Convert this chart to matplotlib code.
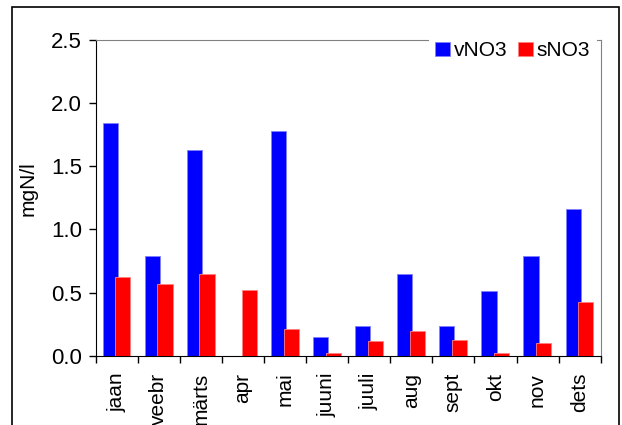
import matplotlib.pyplot as plt
import numpy as np
from matplotlib.patches import Rectangle

months = ["jaan", "veebr", "märts", "apr", "mai", "juuni", "juuli",
          "aug", "sept", "okt", "nov", "dets"]
vno3 = [1.84, 0.79, 1.63, 0.0, 1.78, 0.15, 0.24, 0.65, 0.24, 0.51, 0.79, 1.16]
sno3 = [0.62, 0.57, 0.65, 0.52, 0.21, 0.02, 0.12, 0.20, 0.13, 0.02, 0.10, 0.43]

plt.rcParams["font.family"] = ["Liberation Sans", "DejaVu Sans"]

fig = plt.figure(figsize=(6.22, 4.25), dpi=100)
ax = fig.add_axes([0.1539, 0.1624, 0.8118, 0.7446])

# outer chart frame (bottom edge is cut off in the original)
fig.patches.append(Rectangle((12 / 622, -0.05), (619 - 12) / 622, 1.05 - 7 / 425,
                             transform=fig.transFigure, fill=False,
                             edgecolor="black", linewidth=1.2))

x = np.arange(len(months))
w = 0.36
ax.bar(x - 0.155, vno3, width=w, color="#0000ff", edgecolor="#8080ff",
       linewidth=0.6, label="vNO3", zorder=2)
ax.bar(x + 0.145, sno3, width=w, color="#ff0000", edgecolor="#ff8080",
       linewidth=0.6, label="sNO3", zorder=3)

ax.set_xlim(-0.5, len(months) - 0.5)
ax.set_ylim(0, 2.5)
ax.set_yticks([0, 0.5, 1.0, 1.5, 2.0, 2.5])
ax.set_yticklabels(["0.0", "0.5", "1.0", "1.5", "2.0", "2.5"])
ax.set_xticks(x)
ax.set_xticklabels(months, rotation=90)
ax.set_xticks(np.arange(-0.5, len(months)), minor=True)
ax.tick_params(axis="x", which="major", length=0, pad=12, labelsize=15)
ax.tick_params(axis="x", which="minor", length=5, width=1, direction="out")
ax.tick_params(axis="y", length=5, width=1, pad=5, labelsize=16)
ax.set_ylabel("mgN/l", fontsize=15)
ax.yaxis.set_label_coords(-0.116, 0.528)

for s in ["top", "right"]:
    ax.spines[s].set_color("#808080")
for s in ["left", "bottom"]:
    ax.spines[s].set_color("black")

leg = ax.legend(loc="center", bbox_to_anchor=(0.826, 0.964), ncol=2,
                fontsize=15, frameon=True, fancybox=False, framealpha=1,
                handlelength=0.7, handleheight=0.7, handletextpad=0.2,
                columnspacing=0.5, borderpad=0.3, borderaxespad=0)
leg.get_frame().set_edgecolor("white")
leg.get_frame().set_linewidth(0)

fig.savefig("out.png", dpi=100)
